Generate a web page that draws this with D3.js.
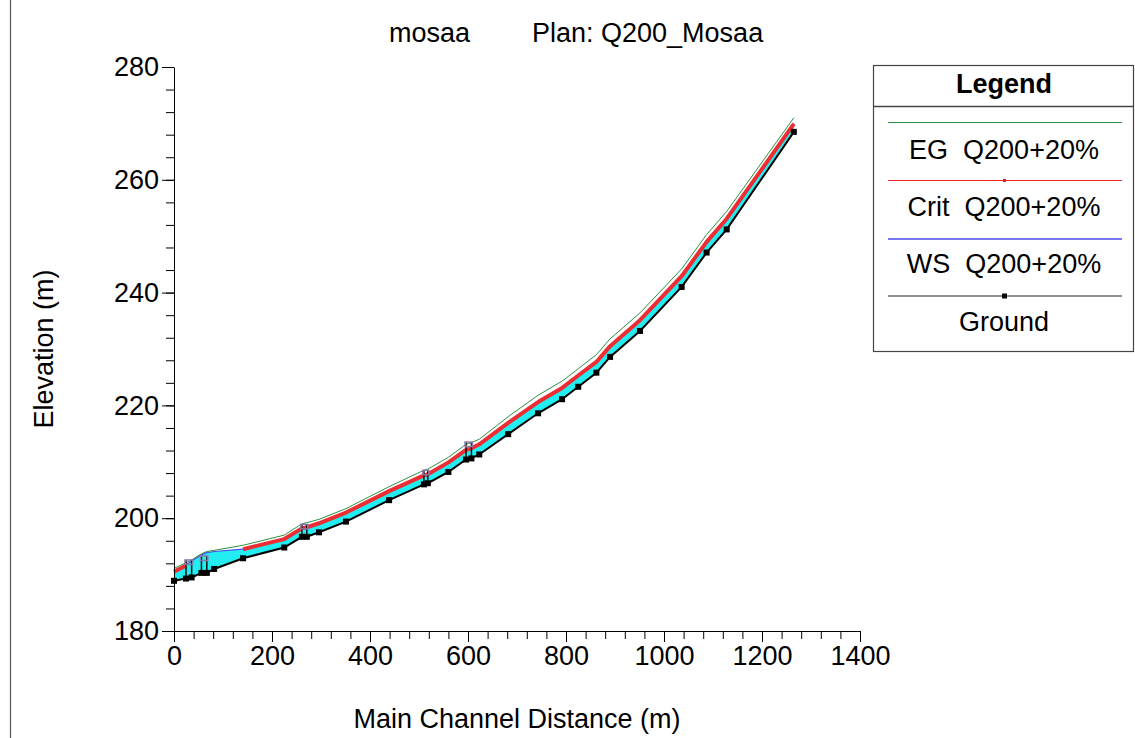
<!DOCTYPE html>
<html>
<head>
<meta charset="utf-8">
<script src="https://cdn.jsdelivr.net/npm/d3@7"></script>
<style>
  body { margin: 0; background: #fff; }
  svg { display: block; }
  text { font-family: "Liberation Sans", Arial, sans-serif; fill: #000; }
</style>
</head>
<body>
<div id="okvir"></div>
<script>
// river stations (m) and elevations (m)
const stations = [0, 24.5, 36, 56, 67, 82, 141, 225, 261, 271, 296, 351, 439, 510, 518, 560, 596, 607, 623, 682, 743, 792, 825, 862, 890, 951, 1036, 1087, 1128, 1265];
const ground = [188.9, 189.3, 189.5, 190.3, 190.3, 191.0, 192.9, 194.8, 196.7, 196.7, 197.5, 199.4, 203.2, 206.0, 206.2, 208.2, 210.4, 210.6, 211.3, 214.9, 218.6, 221.1, 223.3, 225.8, 228.6, 233.2, 241.0, 247.1, 251.2, 268.5];
const wsElev = [190.7, 191.7, 192.4, 193.5, 193.9, 194.1, 194.5, 196.3, 198.3, 198.5, 199.1, 201.0, 204.8, 207.7, 207.9, 209.9, 212.2, 212.5, 213.1, 216.9, 220.6, 223.1, 225.3, 227.8, 230.6, 235.2, 243.0, 249.1, 253.2, 270.0];
const critElev = [190.5, 191.6, null, null, null, null, 194.5, 196.3, 198.2, 198.4, 199.1, 201.0, 204.8, 207.6, 207.8, 209.9, 212.1, 212.4, 213.1, 216.9, 220.6, 223.1, 225.3, 227.7, 230.5, 235.1, 242.9, 249.0, 253.1, 269.9];
const egElev = [191.1, 192.1, 192.6, 193.7, 194.1, 194.3, 195.2, 197.0, 199.0, 199.2, 199.8, 201.7, 205.6, 208.5, 208.7, 210.8, 213.1, 213.4, 214.0, 218.0, 221.8, 224.3, 226.5, 229.0, 231.8, 236.4, 244.2, 250.3, 254.4, 271.0];

// bridges / culverts
const structFrom = [24.5, 56, 261, 510, 596];
const structTo = [36, 67, 271, 518, 607];
const structTop = [192.6, 193.3, 198.9, 208.5, 213.5];

const xTicks = [0, 200, 400, 600, 800, 1000, 1200, 1400];
const yTicks = [180, 200, 220, 240, 260, 280];

const legendLabels = ["EG  Q200+20%", "Crit  Q200+20%", "WS  Q200+20%", "Ground"];
const legendColors = ["#2f8f3f", "#f02828", "#4b4bf0", "#222"];

const sirina = 1135, visina = 738;
const plot = { left: 174, right: 860, top: 67, bottom: 631 };

const rows = stations.map((s, i) => ({
  st: s, g: ground[i], ws: wsElev[i], crit: critElev[i], eg: egElev[i]
}));

const x = d3.scaleLinear().domain([0, 1400]).range([plot.left, plot.right]);
const y = d3.scaleLinear().domain([180, 280]).range([plot.bottom, plot.top]);

const svg = d3.select("#okvir").append("svg")
  .attr("width", sirina)
  .attr("height", visina);

// left frame line
svg.append("line")
  .attr("x1", 10.5).attr("x2", 10.5).attr("y1", 0).attr("y2", visina)
  .attr("stroke", "#555").attr("stroke-width", 1.2);

// title
svg.append("text")
  .attr("x", 389).attr("y", 42)
  .attr("font-size", 27)
  .text("mosaa");
svg.append("text")
  .attr("x", 532).attr("y", 42)
  .attr("font-size", 27)
  .text("Plan: Q200_Mosaa");

// water between ground and WS
svg.append("path")
  .datum(rows)
  .attr("fill", "#22eef2")
  .attr("d", d3.area().x(d => x(d.st)).y0(d => y(d.g)).y1(d => y(d.ws)));

const lineOf = key => d3.line()
  .defined(d => d[key] != null)
  .x(d => x(d.st))
  .y(d => y(d[key]));

svg.append("path").datum(rows)
  .attr("fill", "none").attr("stroke", "#4b4bf0").attr("stroke-width", 1.2)
  .attr("d", lineOf("ws"));

svg.append("path").datum(rows)
  .attr("fill", "none").attr("stroke", "#2f8f3f").attr("stroke-width", 1)
  .attr("d", lineOf("eg"));

svg.append("path").datum(rows)
  .attr("fill", "none").attr("stroke", "#ec2d34").attr("stroke-width", 4)
  .attr("stroke-linejoin", "round")
  .attr("d", lineOf("crit"));

// structures
const groundAt = s => ground[stations.indexOf(s)];
structFrom.forEach((s0, i) => {
  const s1 = structTo[i], top = structTop[i];
  [s0, s1].forEach(s => {
    svg.append("line")
      .attr("x1", x(s)).attr("x2", x(s))
      .attr("y1", y(groundAt(s))).attr("y2", y(top))
      .attr("stroke", "#111").attr("stroke-width", 1.5);
  });
  svg.append("rect")
    .attr("x", x(s0) - 1).attr("y", y(top))
    .attr("width", x(s1) - x(s0) + 2).attr("height", y(top - 0.8) - y(top))
    .attr("fill", "none").attr("stroke", "#8a78a8").attr("stroke-width", 1.5);
});

// ground
svg.append("path").datum(rows)
  .attr("fill", "none").attr("stroke", "#000").attr("stroke-width", 2)
  .attr("d", lineOf("g"));

svg.selectAll(".marker")
  .data(rows)
  .enter().append("rect")
    .attr("class", "marker")
    .attr("x", d => x(d.st) - 3).attr("y", d => y(d.g) - 3)
    .attr("width", 6).attr("height", 6)
    .attr("fill", "#000");

// axes
const osX = svg.append("g").attr("transform", `translate(0,${plot.bottom})`);
osX.call(d3.axisBottom(x).tickValues(d3.range(0, 1401, 40)).tickSize(8).tickSizeOuter(0).tickFormat(""));
osX.append("g").call(d3.axisBottom(x).tickValues(xTicks).tickSize(11).tickSizeOuter(0).tickPadding(4).tickFormat(d3.format("d")))
  .call(g => g.select(".domain").remove());

const osY = svg.append("g").attr("transform", `translate(${plot.left},0)`);
osY.call(d3.axisLeft(y).tickValues(d3.range(180, 281, 4)).tickSize(8).tickSizeOuter(0).tickFormat(""));
osY.append("g").call(d3.axisLeft(y).tickValues(yTicks).tickSize(12).tickPadding(3).tickFormat(d3.format("d")))
  .call(g => g.select(".domain").remove());

svg.selectAll(".tick text")
  .attr("font-size", 27)
  .attr("font-family", "'Liberation Sans', Arial, sans-serif")
  .attr("fill", "#000");
svg.selectAll(".domain, .tick line").attr("stroke", "#000");

// axis titles
svg.append("text")
  .attr("x", (plot.left + plot.right) / 2).attr("y", 728)
  .attr("text-anchor", "middle").attr("font-size", 27)
  .text("Main Channel Distance (m)");
svg.append("text")
  .attr("transform", `translate(53,${(plot.top + plot.bottom) / 2}) rotate(-90)`)
  .attr("text-anchor", "middle").attr("font-size", 27)
  .text("Elevation (m)");

// legend
const leg = svg.append("g");
leg.append("rect")
  .attr("x", 873.5).attr("y", 65.5).attr("width", 260).attr("height", 286)
  .attr("fill", "#fff").attr("stroke", "#444").attr("stroke-width", 1.2);
leg.append("line")
  .attr("x1", 873.5).attr("x2", 1133.5).attr("y1", 106.5).attr("y2", 106.5)
  .attr("stroke", "#444").attr("stroke-width", 1.5);
leg.append("text")
  .attr("x", 1004).attr("y", 93)
  .attr("text-anchor", "middle").attr("font-size", 27).attr("font-weight", "bold")
  .text("Legend");

const lineY = [122.5, 180.5, 239, 296];
const textY = [159, 216, 273, 331];
legendLabels.forEach((lab, i) => {
  leg.append("line")
    .attr("x1", 888).attr("x2", 1122).attr("y1", lineY[i]).attr("y2", lineY[i])
    .attr("stroke", legendColors[i]).attr("stroke-width", i === 2 ? 1.5 : 1.2);
  leg.append("text")
    .attr("x", 1004).attr("y", textY[i])
    .attr("text-anchor", "middle").attr("font-size", 27)
    .attr("xml:space", "preserve")
    .text(lab);
});
leg.append("rect").attr("x", 1003).attr("y", lineY[1] - 1.5).attr("width", 3).attr("height", 3).attr("fill", "#e02020");
leg.append("rect").attr("x", 1002).attr("y", lineY[3] - 2.5).attr("width", 5).attr("height", 5).attr("fill", "#000");
</script>
</body>
</html>
